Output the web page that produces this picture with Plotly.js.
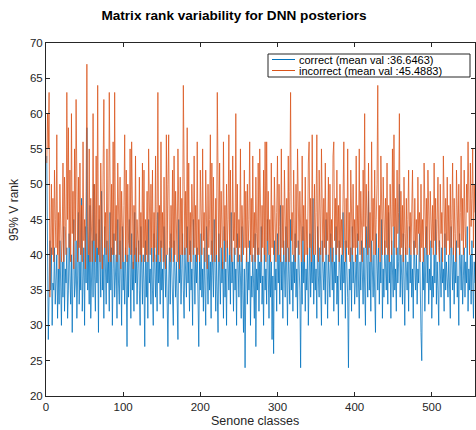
<!DOCTYPE html>
<html>
<head>
<meta charset="utf-8">
<script src="https://cdn.plot.ly/plotly-3.0.1.min.js"></script>
<style>
html,body{margin:0;padding:0;background:#fff;}
#chart{width:476px;height:430px;}
</style>
</head>
<body>
<div id="chart"></div>
<script>
const seriesNames = ["correct (mean val :36.6463)", "incorrect (mean val :45.4883)"];
const seriesColors = ['#0072BD', '#D95319'];

const correct = [
54,44,28,34,42,35,41,30,36,35,41,33,37,40,31,38,33,42,36,30,
39,34,44,32,38,36,41,31,35,43,37,33,40,29,38,45,34,36,42,31,
37,46,33,39,35,48,32,38,41,30,44,36,58,35,40,33,47,31,39,42,
34,50,37,32,43,36,41,29,45,38,34,49,35,40,31,44,37,33,42,36,
39,32,46,35,41,30,38,43,34,37,40,31,45,36,33,42,38,30,44,35,
39,33,41,36,27,40,34,45,37,31,43,35,39,32,46,36,41,33,38,42,
35,30,44,37,33,40,36,27,42,34,39,31,45,36,38,33,41,35,30,43,
37,34,40,32,46,36,39,33,42,35,38,31,44,37,34,40,28,27,36,41,
33,43,38,35,30,42,37,34,39,32,28,45,36,40,33,38,43,35,31,41,
37,34,44,36,39,32,42,35,38,30,45,37,33,40,36,41,31,27,39,35,
43,34,38,32,41,36,30,44,37,33,40,35,39,31,42,36,34,45,38,32,
40,35,29,43,37,33,41,36,39,31,44,34,38,30,42,37,35,40,33,46,
36,39,32,41,35,38,30,43,36,34,40,37,31,44,35,29,38,24,36,41,
33,39,35,42,30,37,34,40,36,31,43,27,38,35,41,32,39,36,44,33,
37,30,41,35,38,33,45,36,31,40,34,39,28,37,26,42,35,38,32,43,
36,40,33,47,35,39,31,42,37,34,44,36,30,41,38,33,45,35,39,32,
40,36,43,34,38,31,42,37,35,24,39,33,44,36,40,32,38,35,41,30,
37,43,34,39,36,48,33,40,35,38,31,44,37,34,41,36,30,42,38,35,
39,33,45,36,31,40,37,34,43,38,35,41,32,39,36,44,33,37,30,42,
38,35,40,33,46,36,39,31,42,37,34,24,38,35,41,32,44,36,39,33,
37,40,34,43,36,31,39,35,42,38,33,41,36,30,44,37,34,49,35,39,
32,42,37,34,40,36,29,43,38,35,41,33,39,36,45,31,38,34,42,37,
35,40,33,46,36,39,31,42,37,34,44,35,38,32,41,36,39,50,34,40,
37,33,43,36,30,41,38,35,39,32,44,36,40,34,38,31,42,37,35,40,
33,38,36,43,34,29,25,39,35,41,32,37,44,36,40,33,38,35,42,31,
37,34,40,36,45,33,39,35,30,42,37,34,41,36,38,32,43,35,39,37,
34,40,36,31,44,38,35,41,33,39,36,42,34,37,30,43,38,35,40,33,
37,41,34,39,36,44,32,38,35,40,33,42,37,31,39,36
];

const incorrect = [
53,60,55,63,34,44,50,40,48,39,52,45,41,57,40,46,38,50,43,39,
42,53,39,51,44,40,63,45,58,41,52,39,60,43,49,38,55,42,62,40,
39,51,41,53,40,47,39,56,42,45,38,49,67,44,40,55,39,48,43,39,
60,42,50,39,54,41,64,40,47,39,53,43,38,52,62,41,46,40,55,42,
39,63,45,39,50,40,56,40,63,42,47,39,53,43,40,51,38,49,42,39,
47,57,40,52,39,50,42,41,55,40,56,44,38,47,40,54,39,45,41,39,
51,40,46,39,53,41,52,39,45,40,49,39,55,42,40,50,41,52,39,46,
41,54,39,45,63,40,47,39,56,41,46,39,51,40,38,57,40,50,57,42,
39,47,41,52,39,54,40,49,42,39,55,43,38,51,40,48,40,64,45,40,
49,41,58,39,53,40,46,39,50,42,40,54,41,47,39,56,40,45,39,52,
41,40,55,42,46,39,52,40,38,50,41,45,57,40,53,39,51,42,39,48,
40,63,44,39,53,41,49,40,38,56,42,47,39,50,41,45,57,40,52,41,
39,54,42,46,40,60,41,50,39,45,41,55,39,47,42,40,52,41,49,39,
50,41,45,56,40,48,39,54,41,46,39,51,43,40,53,40,55,44,39,47,
41,52,40,56,39,56,42,49,40,45,39,53,41,47,40,51,43,39,46,54,
40,50,44,39,55,41,47,40,52,42,39,48,41,54,39,49,63,42,46,40,
52,42,39,50,41,55,44,40,49,41,39,54,42,47,39,51,40,45,40,53,
56,41,48,39,57,43,40,50,40,46,57,42,39,52,44,40,55,42,39,48,
41,53,40,46,42,51,39,50,41,45,39,54,56,42,48,40,52,41,47,39,
50,41,45,40,53,56,42,39,48,41,55,40,46,39,52,43,40,50,41,45,
39,54,41,47,42,55,40,49,41,39,52,44,60,41,50,42,40,53,41,46,
39,56,42,48,40,52,40,45,50,64,41,47,39,54,42,40,51,44,40,48,
41,53,40,47,39,50,42,40,55,44,57,41,48,40,52,43,46,60,40,49,
41,47,39,51,43,40,48,40,45,52,41,46,40,50,52,42,40,48,41,45,
40,51,43,46,39,50,41,45,39,53,45,41,48,40,52,42,40,49,44,41,
47,40,53,42,48,40,45,51,41,39,50,43,46,39,54,44,41,48,40,51,
42,47,40,50,41,45,53,40,48,43,39,52,45,41,50,40,46,54,42,48,
40,52,44,41,50,46,56,42,40,53,44,48,55,41,50,46
];

const xTicks = [0,100,200,300,400,500];
const yTicks = [20,25,30,35,40,45,50,55,60,65,70];
const classes = correct.map((_, i) => i + 1);

const W = 476, H = 430;
const M = {l: 46, r: 1, t: 43, b: 34};
const px = v => (v - M.l) / (W - M.l - M.r);
const py = v => 1 - (v - M.t) / (H - M.t - M.b);

const font = "Liberation Sans, Arial, Helvetica, sans-serif";
const axisCommon = {
  showgrid: false, zeroline: false, showline: true, mirror: 'ticks',
  linecolor: '#262626', linewidth: 1, ticks: 'inside', ticklen: 4,
  tickcolor: '#262626', tickwidth: 1,
  tickfont: {family: font, size: 11.5, color: '#262626'}
};

const data = [
  {x: classes, y: correct, type: 'scatter', mode: 'lines', name: seriesNames[0],
   line: {color: seriesColors[0], width: 0.75}},
  {x: classes, y: incorrect, type: 'scatter', mode: 'lines', name: seriesNames[1],
   line: {color: seriesColors[1], width: 0.75}}
];

// legend box (drawn as shapes + text)
const legRows = [59.5, 70.5];
const shapes = [
  {type: 'rect', xref: 'paper', yref: 'paper', x0: px(268), x1: px(470), y0: py(54), y1: py(77),
   fillcolor: '#fff', line: {color: '#262626', width: 1}, layer: 'above'}
];
const annotations = [
  {xref: 'paper', yref: 'paper', x: px(14), y: py(210), text: '95% V rank', textangle: -90,
   showarrow: false, xanchor: 'center', yanchor: 'middle',
   font: {family: font, size: 12, color: '#262626'}},
  {xref: 'paper', yref: 'paper', x: px(255), y: py(421), text: 'Senone classes',
   showarrow: false, xanchor: 'center', yanchor: 'middle',
   font: {family: font, size: 12.5, color: '#262626'}}
];
seriesNames.forEach((nm, i) => {
  shapes.push({type: 'line', xref: 'paper', yref: 'paper', x0: px(272), x1: px(295),
    y0: py(legRows[i]), y1: py(legRows[i]), line: {color: seriesColors[i], width: 1}, layer: 'above'});
  annotations.push({xref: 'paper', yref: 'paper', x: px(297), y: py(legRows[i]), text: nm,
    showarrow: false, xanchor: 'left', yanchor: 'middle',
    font: {family: font, size: 11, color: '#000'}});
});

const layout = {
  width: W, height: H,
  margin: M,
  paper_bgcolor: '#fff', plot_bgcolor: '#fff',
  showlegend: false,
  title: {text: '<b>Matrix rank variability for DNN posteriors</b>',
    font: {family: font, size: 13.6, color: '#000'},
    x: 234/W, xanchor: 'center', y: 1 - 15/H, yanchor: 'middle'},
  xaxis: Object.assign({}, axisCommon, {
    range: [0, 556], tickvals: xTicks, ticktext: xTicks.map(String)
  }),
  yaxis: Object.assign({}, axisCommon, {
    range: [20, 70], tickvals: yTicks, ticktext: yTicks.map(String)
  }),
  shapes: shapes,
  annotations: annotations
};

Plotly.newPlot('chart', data, layout, {displayModeBar: false, staticPlot: true});
</script>
</body>
</html>
